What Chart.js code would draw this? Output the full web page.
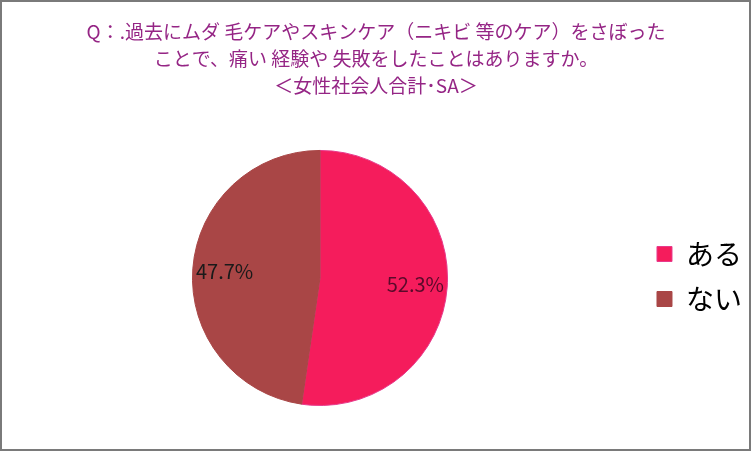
<!DOCTYPE html>
<html>
<head>
<meta charset="utf-8">
<script src="https://cdn.jsdelivr.net/npm/chart.js@4/dist/chart.umd.min.js"></script>
<style>
  html, body { margin: 0; padding: 0; background: #fff; }
  #wrap { width: 752px; height: 451px; position: relative; }
</style>
</head>
<body>
<div id="wrap"><canvas id="pieChart" width="752" height="451"></canvas></div>
<script>
const categories = ['ある', 'ない'];
const values = [52.3, 47.7];
const titleLines = [
  'Q：.過去にムダ 毛ケアやスキンケア（ニキビ 等のケア）をさぼった',
  'ことで、痛い 経験や 失敗をしたことはありますか。',
  '＜女性社会人合計･SA＞'
];
const sliceColors = ['#F51C5C', '#A94646'];
const sliceBorders = ['#E83A8C', '#A94646'];
const labelColors = ['#5A0A2A', '#1A1A1A'];

const jpFont = '"Noto Sans CJK JP", "Noto Sans", sans-serif';

// white background + grey frame round the whole picture
const frame = {
  id: 'frame',
  beforeDraw(chart) {
    const c = chart.ctx;
    c.save();
    c.fillStyle = '#fff';
    c.fillRect(0, 0, chart.width, chart.height);
    c.strokeStyle = '#7a7a7a';
    c.lineWidth = 2;
    c.strokeRect(1, 1, chart.width - 3, chart.height - 2);
    c.restore();
  }
};

// percentage labels inside the slices
const sliceLabels = {
  id: 'sliceLabels',
  afterDatasetsDraw(chart) {
    const c = chart.ctx;
    const meta = chart.getDatasetMeta(0);
    c.save();
    c.font = '20px ' + jpFont;
    c.textAlign = 'center';
    c.textBaseline = 'middle';
    meta.data.forEach((arc, i) => {
      const p = arc.getProps(['x', 'y', 'startAngle', 'endAngle', 'outerRadius'], true);
      const mid = (p.startAngle + p.endAngle) / 2;
      const r = p.outerRadius * 0.75;
      c.fillStyle = labelColors[i];
      c.fillText(values[i].toFixed(1) + '%', p.x + Math.cos(mid) * r, p.y + Math.sin(mid) * r);
    });
    c.restore();
  }
};

new Chart(document.getElementById('pieChart').getContext('2d'), {
  type: 'pie',
  data: {
    labels: categories,
    datasets: [{
      data: values,
      backgroundColor: sliceColors,
      borderColor: sliceBorders,
      borderWidth: 1
    }]
  },
  options: {
    responsive: false,
    animation: false,
    layout: { padding: { left: 0, right: 0, top: 0, bottom: 45 } },
    plugins: {
      title: {
        display: true,
        text: titleLines,
        color: '#952585',
        font: { family: jpFont, size: 19, weight: 'normal', lineHeight: 1.42 },
        padding: { top: 18, bottom: 51 }
      },
      legend: {
        position: 'right',
        title: {
          display: true,
          text: ' ',
          font: { size: 10, lineHeight: 1.2 },
          padding: { top: 135, bottom: 0 }
        },
        labels: {
          color: '#000',
          font: { family: jpFont, size: 28 },
          boxWidth: 15,
          boxHeight: 15,
          padding: 17
        }
      },
      tooltip: { enabled: false }
    }
  },
  plugins: [frame, sliceLabels]
});
</script>
</body>
</html>
